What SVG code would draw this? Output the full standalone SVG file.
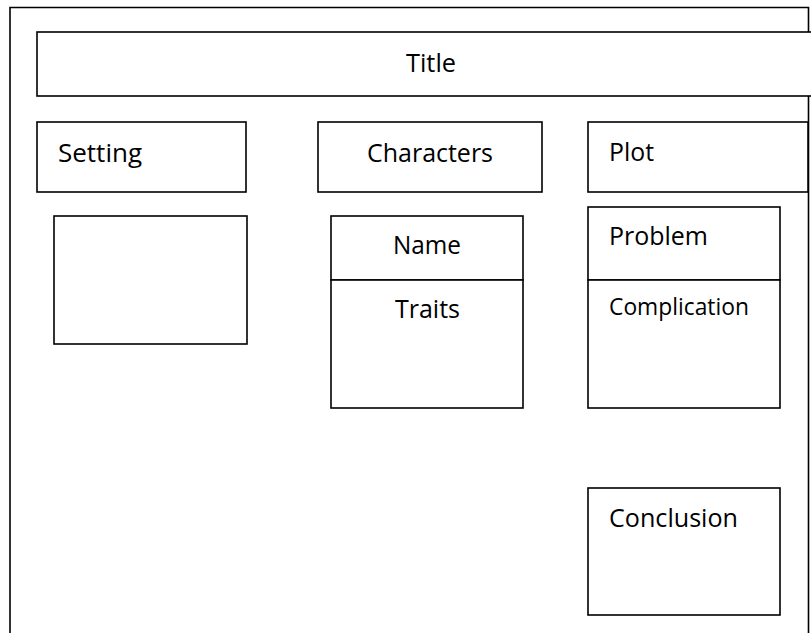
<svg xmlns="http://www.w3.org/2000/svg" width="811" height="633" viewBox="0 0 811 633">
<style>
.box{fill:#fff;stroke:#000;stroke-width:1.6}
.ln{stroke:#000;stroke-width:1.6;fill:none}
.t{font-family:"Open Sans","Liberation Sans",sans-serif;font-size:25px;fill:#000}
.s{font-size:23px}
</style>
<rect width="811" height="633" fill="#fff"/>
<g id="frame"><path class="ln" d="M10,640 V7.5 H808.5 V640"/></g>
<g id="title"><rect class="box" x="37" y="32" width="790" height="64"/><text class="t" x="406" y="72" textLength="50" lengthAdjust="spacingAndGlyphs">Title</text></g>
<g id="setting"><rect class="box" x="37" y="122" width="209" height="70"/><text class="t" x="58" y="162" textLength="84" lengthAdjust="spacingAndGlyphs">Setting</text></g>
<g id="setting-box"><rect class="box" x="54" y="216" width="193" height="128"/></g>
<g id="characters"><rect class="box" x="318" y="122" width="224" height="70"/><text class="t" x="367" y="162" textLength="126" lengthAdjust="spacingAndGlyphs">Characters</text></g>
<g id="plot"><rect class="box" x="588" y="122" width="220" height="70"/><text class="t" x="609" y="161" textLength="45" lengthAdjust="spacingAndGlyphs">Plot</text></g>
<g id="name"><rect class="box" x="331" y="216" width="192" height="64"/><text class="t" x="393" y="254" textLength="68" lengthAdjust="spacingAndGlyphs">Name</text></g>
<g id="traits"><rect class="box" x="331" y="280" width="192" height="128"/><text class="t" x="395" y="318" textLength="65" lengthAdjust="spacingAndGlyphs">Traits</text></g>
<g id="problem"><rect class="box" x="588" y="207" width="192" height="73"/><text class="t" x="609" y="245" textLength="99" lengthAdjust="spacingAndGlyphs">Problem</text></g>
<g id="complication"><rect class="box" x="588" y="280" width="192" height="128"/><text class="t s" x="609" y="315" textLength="140" lengthAdjust="spacingAndGlyphs">Complication</text></g>
<g id="conclusion"><rect class="box" x="588" y="488" width="192" height="127"/><text class="t" x="609" y="527" textLength="129" lengthAdjust="spacingAndGlyphs">Conclusion</text></g>
<g id="connectors"></g>
</svg>
